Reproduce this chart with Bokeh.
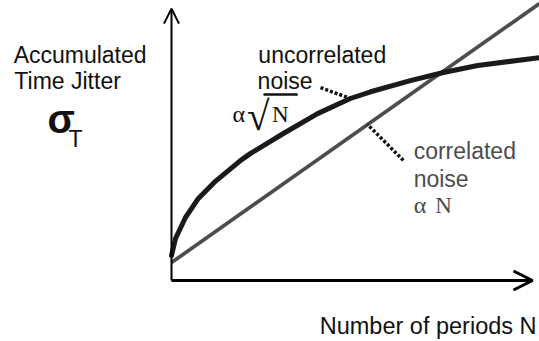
from bokeh.plotting import figure
from bokeh.models import Label, Arrow, OpenHead, Range1d
from bokeh.embed import file_html
from bokeh.resources import INLINE

# Accumulated jitter versus number of periods (arbitrary units)
N_uncorr = [0.0, 0.11, 0.38, 0.73, 1.20, 1.88, 2.15, 3.04, 3.97, 4.86, 5.41, 6.49, 7.39, 8.32, 10.0]
sigma_uncorr = [0.89, 1.50, 2.25, 2.93, 3.55, 4.29, 4.54, 5.25, 5.96, 6.50, 6.74, 7.14, 7.43, 7.68, 7.96]
N_corr = [0.0, 10.0]
sigma_corr = [0.64, 9.89]

# axis extents (data units)
x_axis_end = 9.81
y_axis_end = 9.71

SERIF = "Liberation Serif"
SANS = "Liberation Sans"
BLACK = "#111111"
GRAY = "#4d4d4d"

p = figure(width=539, height=341, output_backend="svg", toolbar_location=None,
           x_range=Range1d(-4.6467, 10.0), y_range=Range1d(-2.1786, 10.0),
           min_border=0)
p.axis.visible = False
p.grid.visible = False
p.outline_line_color = None
p.background_fill_color = "white"
p.border_fill_color = "white"

# axes drawn as arrows
p.add_layout(Arrow(x_start=0, y_start=0, x_end=0, y_end=y_axis_end,
                   line_width=2, line_color="black",
                   end=OpenHead(size=15, line_width=2, line_color="black")))
p.add_layout(Arrow(x_start=0, y_start=0, x_end=x_axis_end, y_end=0,
                   line_width=3, line_color="black",
                   end=OpenHead(size=19, line_width=3, line_color="black")))

# curves
p.line(N_corr, sigma_corr, line_width=3.7, line_color=GRAY)
p.line(N_uncorr, sigma_uncorr, line_width=5, line_color="#1a1a1a",
       line_join="round", line_cap="round")

# leader lines from labels to curves
i_u = 9
p.line([4.05, N_uncorr[i_u]], [6.89, sigma_uncorr[i_u]],
       line_width=3.5, line_color=BLACK, line_dash="3 2")
n_c = 5.33
s_c = sigma_corr[0] + (sigma_corr[1] - sigma_corr[0]) * (n_c - N_corr[0]) / (N_corr[1] - N_corr[0])
p.line([6.30, n_c], [4.29, s_c], line_width=3.5, line_color=BLACK, line_dash="3 2")

DY = 0.25  # baseline correction for label placement


def lab(x, y, text, font=SANS, size="23px", color=BLACK, align="left", style="normal"):
    p.add_layout(Label(x=x, y=y + DY, text=text, text_font=font, text_font_size=size,
                       text_color=color, text_align=align, text_baseline="alphabetic",
                       text_font_style=style))


# y-axis title
lab(-4.29, 7.82, "Accumulated")
lab(-4.27, 6.86, "Time Jitter")
lab(-3.37, 5.50, "σ", size="40px", style="bold")
lab(-2.80, 4.82, "T")

# x-axis title
lab(9.92, -1.89, "Number of periods N", align="right", size="23.5px")

# uncorrelated noise annotation
lab(2.36, 7.82, "uncorrelated")
lab(2.34, 6.89, "noise")
lab(1.66, 5.68, "α", font=SERIF, size="24px")
lab(2.05, 5.62, "√", font=SERIF, size="41px")
lab(2.73, 5.68, "N", font=SERIF, size="23px")
p.line([2.50, 3.43], [6.64, 6.64], line_width=2.5, line_color=BLACK)

# correlated noise annotation
lab(6.58, 4.36, "correlated", color=GRAY)
lab(6.58, 3.39, "noise", color=GRAY)
lab(6.58, 2.43, "α", font=SERIF, size="24px", color=GRAY)
lab(7.17, 2.43, "N", font=SERIF, size="23px", color=GRAY)

open("out.html", "w").write(file_html(p, INLINE))
